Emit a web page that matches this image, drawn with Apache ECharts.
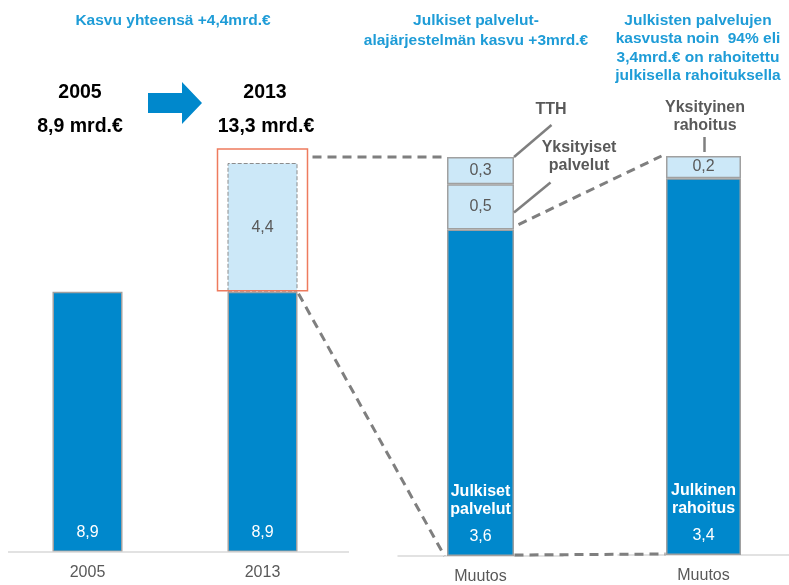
<!DOCTYPE html>
<html>
<head>
<meta charset="utf-8">
<script src="https://cdn.jsdelivr.net/npm/echarts@6/dist/echarts.min.js"></script>
<style>
  html, body { margin: 0; padding: 0; background: #fff; }
  #chart { width: 789px; height: 585px; }
</style>
</head>
<body>
<div id="chart"></div>
<script>
// vasen: 2005 vs 2013
const years = ['2005', '2013'];
const baseValues = [8.9, 8.9];
const growthValues = ['-', 4.4];
// keskellä: julkisten palvelujen muutos
const changeCats = ['Muutos'];
const publicServices = [3.6];
const privateServices = [0.5];
const tthValues = [0.3];
// oikealla: rahoitus
const publicFunding = [3.4];
const privateFunding = [0.2];

const FONT = 'Liberation Sans, Arial, sans-serif';
const BLUE = '#0088CC';
const LIGHT = '#CCE8F8';
const TITLE_BLUE = '#1E9CD7';
const GREY_TXT = '#595959';
const fmt = v => Number(v).toFixed(1).replace('.', ',');

const chart = echarts.init(document.getElementById('chart'));

const catAxis = (idx, data, showLine) => ({
  type: 'category', gridIndex: idx, data: data,
  axisTick: {show: false},
  axisLine: {show: showLine, lineStyle: {color: '#d9d9d9', width: 1.5}},
  axisLabel: {color: GREY_TXT, fontSize: 16, fontFamily: FONT, margin: 13}
});
const valAxis = (idx, max) => ({
  type: 'value', gridIndex: idx, min: 0, max: max, show: false, splitLine: {show: false}
});

const darkLabel = {
  show: true, position: 'insideBottom', distance: 10, fontFamily: FONT,
  rich: {
    b: {color: '#fff', fontSize: 16, fontWeight: 'bold', lineHeight: 18, fontFamily: FONT},
    s: {lineHeight: 9},
    n: {color: '#fff', fontSize: 16, lineHeight: 18, fontFamily: FONT}
  }
};
const lightLabel = {
  show: true, position: 'inside', color: GREY_TXT, fontSize: 16, fontFamily: FONT,
  formatter: p => fmt(p.value)
};
const solidBorder = {borderColor: '#a0a0a0', borderWidth: 1.5};

chart.setOption({
  animation: false,
  grid: [
    {left: 0, width: 350, top: 163, height: 389},
    {left: 398, width: 165, top: 157, height: 400},
    {left: 618, width: 171, top: 156, height: 399}
  ],
  xAxis: [catAxis(0, years, false), catAxis(1, changeCats, true), catAxis(2, changeCats, true)],
  yAxis: [valAxis(0, 13.3), valAxis(1, 4.4), valAxis(2, 3.6)],
  series: [
    {
      type: 'bar', xAxisIndex: 0, yAxisIndex: 0, stack: 'a', barWidth: 70,
      data: baseValues, itemStyle: Object.assign({color: BLUE}, solidBorder),
      label: {show: true, position: 'insideBottom', distance: 11, color: '#fff',
        fontSize: 16, fontFamily: FONT, formatter: p => fmt(p.value)}
    },
    {
      type: 'bar', xAxisIndex: 0, yAxisIndex: 0, stack: 'a', barWidth: 70,
      data: growthValues,
      itemStyle: {color: LIGHT, borderColor: '#8c8c8c', borderWidth: 1, borderType: 'dashed'},
      label: lightLabel
    },
    {
      type: 'bar', xAxisIndex: 1, yAxisIndex: 1, stack: 'b', barWidth: 67,
      data: publicServices, itemStyle: Object.assign({color: BLUE}, solidBorder),
      label: Object.assign({}, darkLabel, {
        formatter: p => '{b|Julkiset}\n{b|palvelut}\n{s|}\n{n|' + fmt(p.value) + '}'
      })
    },
    {
      type: 'bar', xAxisIndex: 1, yAxisIndex: 1, stack: 'b', barWidth: 67,
      data: privateServices, itemStyle: Object.assign({color: LIGHT}, solidBorder),
      label: lightLabel
    },
    {
      type: 'bar', xAxisIndex: 1, yAxisIndex: 1, stack: 'b', barWidth: 67,
      data: tthValues, itemStyle: Object.assign({color: LIGHT}, solidBorder),
      label: lightLabel
    },
    {
      type: 'bar', xAxisIndex: 2, yAxisIndex: 2, stack: 'c', barWidth: 75,
      data: publicFunding, itemStyle: Object.assign({color: BLUE}, solidBorder),
      label: Object.assign({}, darkLabel, {
        formatter: p => '{b|Julkinen}\n{b|rahoitus}\n{s|}\n{n|' + fmt(p.value) + '}'
      })
    },
    {
      type: 'bar', xAxisIndex: 2, yAxisIndex: 2, stack: 'c', barWidth: 75,
      data: privateFunding, itemStyle: Object.assign({color: LIGHT}, solidBorder),
      label: lightLabel
    }
  ]
});

// pikselipaikat akseleilta
const px = (g, cat, v) => chart.convertToPixel({gridIndex: g}, [cat, v]);
const [c0, top0] = px(0, '2013', 13.3);
const base0 = px(0, '2013', 8.9)[1];
const zero0 = px(0, '2013', 0)[1];
const [m, midTop] = px(1, 'Muutos', 4.4);
const midBase = px(1, 'Muutos', 0)[1];
const midPub = px(1, 'Muutos', 3.6)[1];
const [r, rTop] = px(2, 'Muutos', 3.6);
const rBase = px(2, 'Muutos', 0)[1];

const dash = {stroke: '#7f7f7f', lineWidth: 3, lineDash: [9, 6]};
const lead = {stroke: '#7f7f7f', lineWidth: 2.5};
const line = (x1, y1, x2, y2, style) => ({type: 'line', shape: {x1, y1, x2, y2}, style: style, z: 10});
const txt = (x, y, text, fill, size, extra) => ({
  type: 'text', x: x, y: y, z: 10,
  style: Object.assign({text: text, fill: fill, font: 'bold ' + size + 'px ' + FONT,
    textAlign: 'center', textVerticalAlign: 'middle'}, extra || {})
});

chart.setOption({
  graphic: [
    // otsikot
    txt(173, 21, 'Kasvu yhteensä +4,4mrd.€', TITLE_BLUE, 15.5),
    txt(476, 31, 'Julkiset palvelut-\nalajärjestelmän kasvu +3mrd.€', TITLE_BLUE, 15.5, {lineHeight: 20}),
    txt(698, 48, 'Julkisten palvelujen\nkasvusta noin  94% eli\n3,4mrd.€ on rahoitettu\njulkisella rahoituksella', TITLE_BLUE, 15.5, {lineHeight: 18.5}),
    txt(80, 93, '2005', '#000', 19.5),
    txt(80, 127, '8,9 mrd.€', '#000', 19.5),
    txt(265, 93, '2013', '#000', 19.5),
    txt(266, 127, '13,3 mrd.€', '#000', 19.5),
    {
      type: 'polygon', z: 10,
      shape: {points: [[148, 93], [182, 93], [182, 82], [202, 103], [182, 124], [182, 113], [148, 113]]},
      style: {fill: BLUE}
    },
    // vasemman kaavion perusviiva
    line(8, zero0, 349, zero0, {stroke: '#d9d9d9', lineWidth: 1.5}),
    // punainen kehys
    {
      type: 'rect', z: 9,
      shape: {x: c0 - 45, y: top0 - 14, width: 90, height: base0 - 1 - (top0 - 14)},
      style: {fill: 'none', stroke: '#EE7B5E', lineWidth: 1.5}
    },
    // katkoviivat
    line(c0 + 50, midTop, m - 34, midTop, dash),
    line(c0 + 36, base0 + 2, m - 36, midBase, dash),
    line(m + 38, midPub - 5, r - 42, rTop, dash),
    line(m + 34, midBase - 1, r - 38, rBase - 1, dash),
    // selitteet
    line(m + 33.5, midTop, m + 71, midTop - 32, lead),
    line(m + 33.5, midPub - 17, m + 70, midPub - 47, lead),
    line(r + 1, rTop - 4, r + 1, rTop - 19, lead),
    txt(551, 110, 'TTH', GREY_TXT, 16),
    txt(579, 157, 'Yksityiset\npalvelut', GREY_TXT, 16, {lineHeight: 18}),
    txt(705, 117, 'Yksityinen\nrahoitus', GREY_TXT, 16, {lineHeight: 18})
  ]
});
</script>
</body>
</html>
